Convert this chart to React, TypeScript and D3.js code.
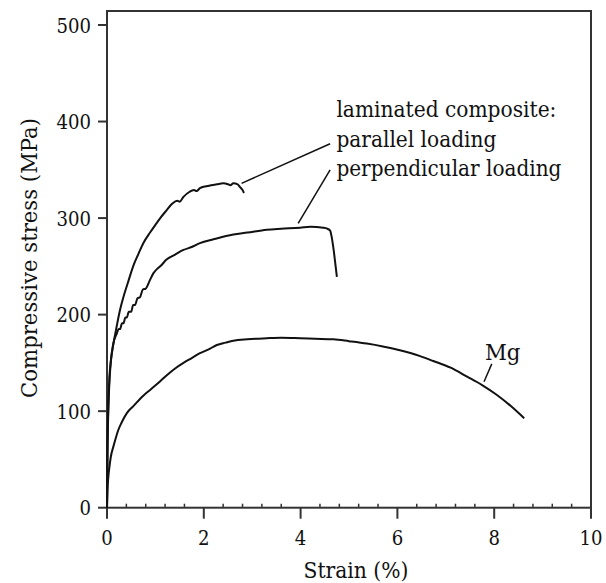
import React from 'react';
import * as d3 from 'd3';

// strain (%) / stress (MPa)
const parallelStrain = [0, 0.01, 0.03, 0.05, 0.08, 0.12, 0.17, 0.22, 0.27, 0.35, 0.45, 0.54, 0.65, 0.75, 0.89, 1.0, 1.1, 1.23, 1.35, 1.45, 1.5, 1.58, 1.7, 1.8, 1.85, 1.92, 2.05, 2.15, 2.27, 2.4, 2.5, 2.55, 2.61, 2.7, 2.75, 2.8, 2.83];
const parallelStress = [0, 60, 110, 135, 152, 166, 180, 193, 205, 220, 236, 250, 263, 274, 285, 293, 300, 308, 315, 318, 317, 322, 327, 329, 328, 331, 333, 334, 335, 336, 335, 334, 336, 335, 332, 329, 326];

const perpStrain = [0, 0.01, 0.03, 0.05, 0.08, 0.13, 0.2, 0.24, 0.27, 0.31, 0.34, 0.38, 0.41, 0.45, 0.5, 0.54, 0.58, 0.63, 0.68, 0.74, 0.8, 0.88, 0.96, 1.05, 1.1, 1.23, 1.4, 1.58, 1.75, 1.92, 2.2, 2.61, 2.9, 3.3, 3.6, 3.99, 4.2, 4.47, 4.55, 4.61, 4.64, 4.68, 4.71, 4.75];
const perpStress = [0, 55, 105, 130, 152, 170, 180, 185, 185, 191, 191, 197, 197, 203, 203, 210, 210, 217, 218, 226, 227, 235, 243, 248, 250, 257, 262, 267, 270, 274, 278, 283, 285, 288, 289, 290, 291, 290, 289, 287, 281, 268, 256, 239];

const mgStrain = [0, 0.01, 0.03, 0.05, 0.08, 0.13, 0.18, 0.23, 0.3, 0.41, 0.54, 0.75, 0.89, 1.1, 1.23, 1.4, 1.58, 1.75, 1.92, 2.1, 2.27, 2.45, 2.61, 2.9, 3.3, 3.6, 3.99, 4.3, 4.68, 5.0, 5.37, 5.7, 6.05, 6.47, 6.74, 7.1, 7.43, 7.75, 8.05, 8.35, 8.62];
const mgStress = [0, 18, 33, 42, 53, 63, 72, 80, 88, 98, 105, 116, 122, 131, 137, 144, 150, 155, 160, 164, 168.5, 171, 173, 174.5, 175.5, 176, 175.5, 175, 174.4, 172.5, 170, 167, 163, 157, 152, 145, 136, 127, 117, 105, 92.6];

const xTicks = [0, 2, 4, 6, 8, 10];
const yTicks = [0, 100, 200, 300, 400, 500];

const W = 606, H = 583;
const x = d3.scaleLinear().domain([0, 10]).range([107, 591]);
const y = d3.scaleLinear().domain([0, 500]).range([507.7, 25]);
const yTop = 514.5;
const font = "'DejaVu Serif Condensed', 'DejaVu Serif', serif";

const toPts = (xs: number[], ys: number[]) => xs.map((v, i) => [v, ys[i]] as [number, number]);

export default function App() {
  const curve = d3.line<[number, number]>().x(d => x(d[0])).y(d => y(d[1])).curve(d3.curveMonotoneX);
  const minor = d3.range(0, 10.001, 0.4).filter(v => !xTicks.some(t => Math.abs(t - v) < 1e-6));

  // leader lines in data units
  const leaders: [number, number, number, number][] = [
    [2.78, 336, 4.61, 377],
    [3.95, 294.6, 4.61, 350],
    [7.79, 130.5, 7.95, 149],
  ];
  const tickLen = (t: number) => String(t).length * 11.5;
  const common = { fontFamily: font, fill: '#111', lengthAdjust: 'spacingAndGlyphs' as const };

  return (
    <svg width={W} height={H} style={{ position: 'absolute', left: 0, top: 0, background: '#fff' }}>
      <rect x={x(0)} y={y(yTop)} width={x(10) - x(0)} height={y(0) - y(yTop)} fill="none" stroke="#333" strokeWidth={2} />
      {yTicks.map(t => (
        <g key={'y' + t}>
          <line x1={x(0) - 9} x2={x(0)} y1={y(t)} y2={y(t)} stroke="#333" strokeWidth={2} />
          <text x={x(0) - 16} y={y(t)} dy="0.36em" textAnchor="end" fontSize={21} textLength={tickLen(t)} {...common}>{t}</text>
        </g>
      ))}
      {xTicks.map(t => (
        <g key={'x' + t}>
          <line x1={x(t)} x2={x(t)} y1={y(0)} y2={y(0) + 11} stroke="#333" strokeWidth={2} />
          <text x={x(t)} y={545} textAnchor="middle" fontSize={21} textLength={tickLen(t)} {...common}>{t}</text>
        </g>
      ))}
      {minor.map(t => (
        <line key={'m' + t} x1={x(t)} x2={x(t)} y1={y(0)} y2={y(0) - 4} stroke="#333" strokeWidth={1.5} />
      ))}
      <path d={curve(toPts(parallelStrain, parallelStress)) || ''} fill="none" stroke="#111" strokeWidth={2} />
      <path d={curve(toPts(perpStrain, perpStress)) || ''} fill="none" stroke="#111" strokeWidth={2} />
      <path d={curve(toPts(mgStrain, mgStress)) || ''} fill="none" stroke="#111" strokeWidth={2} />
      {leaders.map((l, i) => (
        <line key={'l' + i} x1={x(l[0])} y1={y(l[1])} x2={x(l[2])} y2={y(l[3])} stroke="#111" strokeWidth={1.5} />
      ))}
      <text x={x(4.74)} y={y(404.7)} fontSize={23} textLength={220} {...common}>laminated composite:</text>
      <text x={x(4.74)} y={y(374)} fontSize={23} textLength={160} {...common}>parallel loading</text>
      <text x={x(4.74)} y={y(343.6)} fontSize={23} textLength={225} {...common}>perpendicular loading</text>
      <text x={x(7.81)} y={y(153)} fontSize={23} textLength={35.5} {...common}>Mg</text>
      <text x={356} y={578} textAnchor="middle" fontSize={23} textLength={105} {...common}>Strain (%)</text>
      <text transform="translate(37,258) rotate(-90)" textAnchor="middle" fontSize={23} textLength={280} {...common}>Compressive stress (MPa)</text>
    </svg>
  );
}
